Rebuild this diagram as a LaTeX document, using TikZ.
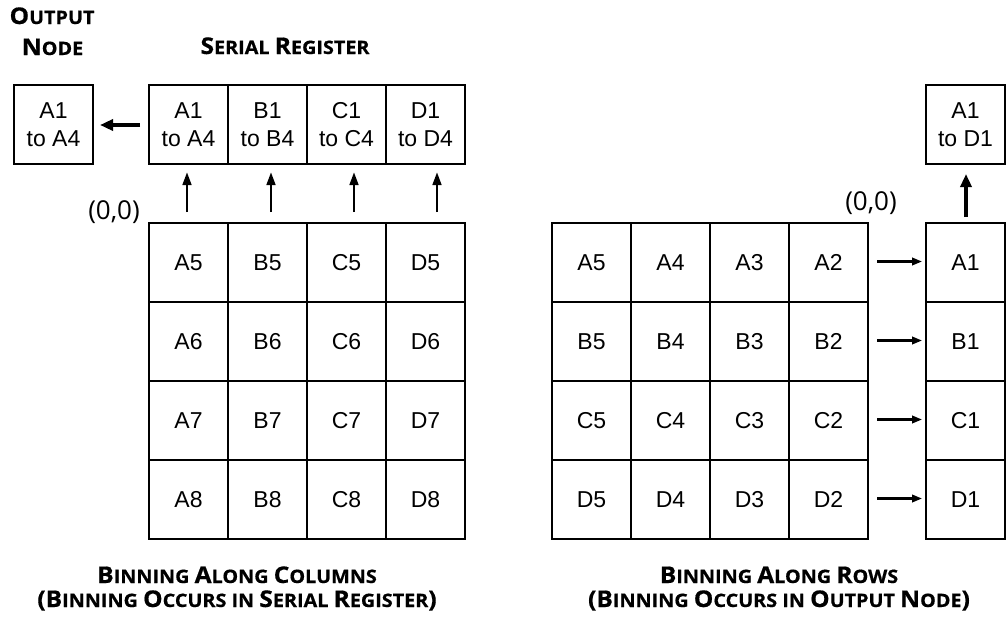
\documentclass[tikz,border=0pt]{standalone}
\usepackage{fontspec}
\setmainfont{Liberation Sans}
\newfontfamily\hfont{Open Sans}[BoldFont={* Bold}, BoldFeatures={FakeStretch=1.07, FakeBold=0.6}]
\newfontfamily\ofont{Open Sans}
\usetikzlibrary{arrows.meta}
\newcommand\Bt[1]{{\fontsize{23}{25}\selectfont #1}}
\tikzset{
  cell/.style={draw, line width=2.2pt, minimum width=79pt, minimum height=79pt, inner sep=0pt,
    font=\fontsize{23}{28}\selectfont, align=center},
  title/.style={font=\hfont\bfseries\fontsize{18.5}{22}\selectfont, anchor=base, inner sep=0pt},
  origin/.style={font=\ofont\fontsize{26}{28}\selectfont, inner sep=0pt},
  bigarrow/.style={line width=3.5pt, -{Triangle[length=13pt,width=11pt]}},
  uparrow/.style={line width=2.8pt, -{Triangle[length=13pt,width=8.5pt]}},
  smallarrow/.style={line width=2.2pt, -{Triangle[length=10pt,width=7.5pt]}}
}
\begin{document}
\begin{tikzpicture}[x=1pt,y=-1pt]
\useasboundingbox (0,0) rectangle (1006,621);

% ---------- left diagram ----------
\node[title] (tout) at (52,24) {\Bt{O}UTPUT};
\node[title] (tnode) at (52.5,55) {\Bt{N}ODE};
\node[title] (tser) at (285,54) {\Bt{S}ERIAL \Bt{R}EGISTER};

\node[cell] (on) at (53.5,124.5) {A1\\to A4};
\node[cell] (sa) at (188.5,124.5) {A1\\to A4};
\node[cell] (sb) at (267.5,124.5) {B1\\to B4};
\node[cell] (sc) at (346.5,124.5) {C1\\to C4};
\node[cell] (sd) at (425.5,124.5) {D1\\to D4};

\foreach \c/\x in {A/188.5,B/267.5,C/346.5,D/425.5}{
  \foreach \r/\y in {5/262.5,6/341.5,7/420.5,8/499.5}{
    \node[cell] (L\c\r) at (\x,\y) {\c\r};
  }
}

\coordinate (oa) at (140,125);
\coordinate (ob) at (100,125);
\draw[bigarrow] (oa) -- (ob);

\foreach \n/\x in {1/187,2/271,3/354,4/437}{
  \coordinate (ut\n) at (\x,212);
  \coordinate (uh\n) at (\x,172);
  \draw[uparrow] (ut\n) -- (uh\n);
}

\node[origin] (o1) at (114,212) {(0,0)};

\node[title] (c1a) at (237,583) {\Bt{B}INNING \Bt{A}LONG \Bt{C}OLUMNS};
\node[title] (c1b) at (237,607) {\Bt{(B}INNING \Bt{O}CCURS IN \Bt{S}ERIAL \Bt{R}EGISTER\Bt{)}};

% ---------- right diagram ----------
\foreach \r/\y in {A/262.5,B/341.5,C/420.5,D/499.5}{
  \foreach \c/\x in {5/591.5,4/670.5,3/749.5,2/828.5}{
    \node[cell] (R\r\c) at (\x,\y) {\r\c};
  }
  \node[cell] (R\r1) at (965.5,\y) {\r1};
  \coordinate (ht\r) at (877,\y-1);
  \coordinate (hh\r) at (922,\y-1);
  \draw[smallarrow] (ht\r) -- (hh\r);
}

\node[cell] (top) at (965.5,124.5) {A1\\to D1};
\coordinate (vt) at (966,217);
\coordinate (vh) at (966,174);
\draw[bigarrow] (vt) -- (vh);

\node[origin] (o2) at (871,203) {(0,0)};

\node[title] (c2a) at (779,583) {\Bt{B}INNING \Bt{A}LONG \Bt{R}OWS};
\node[title] (c2b) at (779,607) {\Bt{(B}INNING \Bt{O}CCURS IN \Bt{O}UTPUT \Bt{N}ODE\Bt{)}};
\end{tikzpicture}
\end{document}
